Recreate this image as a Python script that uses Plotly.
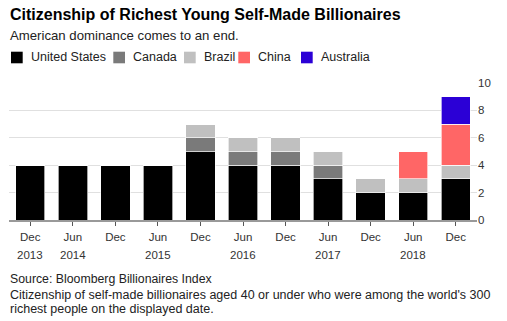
import plotly.graph_objects as go

months = ["Dec", "Jun", "Dec", "Jun", "Dec", "Jun", "Dec", "Jun", "Dec", "Jun", "Dec"]
years = ["2013", "2014", "", "2015", "", "2016", "", "2017", "", "2018", ""]
categories = [f"{m} {y or i}" for i, (m, y) in enumerate(zip(months, years))]

us = [4, 4, 4, 4, 5, 4, 4, 3, 2, 2, 3]
canada = [0, 0, 0, 0, 1, 1, 1, 1, 0, 0, 0]
brazil = [0, 0, 0, 0, 1, 1, 1, 1, 1, 1, 1]
china = [0, 0, 0, 0, 0, 0, 0, 0, 0, 2, 3]
australia = [0, 0, 0, 0, 0, 0, 0, 0, 0, 0, 2]

series = [
    ("United States", us, "#000000"),
    ("Canada", canada, "#7a7a7a"),
    ("Brazil", brazil, "#c0c0c0"),
    ("China", china, "#ff6666"),
    ("Australia", australia, "#2b00d6"),
]

FONT = "Liberation Sans, Arial, sans-serif"
W, H = 507, 321
ML, MR, MT, MB = 9, 30, 83, 101
PW, PH = W - ML - MR, H - MT - MB


def px(x):
    return (x - ML) / PW


def py(y):
    return 1 - (y - MT) / PH


fig = go.Figure()
for name, vals, color in series:
    fig.add_trace(go.Bar(
        x=categories, y=vals, name=name,
        marker=dict(color=color, line=dict(color="rgba(255,255,255,0.8)", width=0.8)),
    ))

fig.update_layout(
    width=W, height=H,
    margin=dict(l=ML, r=MR, t=MT, b=MB),
    barmode="stack", bargap=0.31,
    plot_bgcolor="white", paper_bgcolor="white",
    font=dict(family=FONT, color="#222"),
    showlegend=False,
    xaxis=dict(
        tickmode="array", tickvals=categories, ticktext=months,
        ticks="outside", ticklen=4, tickcolor="#555",
        showline=True, linecolor="#999", linewidth=1.5,
        showgrid=False, tickfont=dict(size=11.5, color="#333"),
        ticklabelstandoff=1,
    ),
    yaxis=dict(
        side="right", range=[0, 10], tickvals=[0, 2, 4, 6, 8, 10],
        showgrid=True, gridcolor="#e0e0e0", gridwidth=1,
        zeroline=False, showline=False, ticks="",
        tickfont=dict(size=11.5, color="#333"),
    ),
)

for c, y in zip(categories, years):
    if y:
        fig.add_annotation(x=c, y=0, xref="x", yref="paper", text=y, showarrow=False,
                           yshift=-35, yanchor="middle", font=dict(size=11.5, color="#333"))

# legend (drawn manually to match the compact reference spacing)
legend_x = [11, 113.3, 184, 238.3, 301]
for (name, _, color), lx in zip(series, legend_x):
    fig.add_shape(type="rect", xref="paper", yref="paper",
                  x0=px(lx), x1=px(lx + 11.7), y0=py(63.3), y1=py(51.7),
                  fillcolor=color, line=dict(width=0))
    fig.add_annotation(text=name, xref="paper", yref="paper",
                       x=px(lx + 17.5), y=py(57.5), xanchor="left", yanchor="middle",
                       showarrow=False, font=dict(size=12.5, color="#222"))

texts = [
    ("<b>Citizenship of Richest Young Self-Made Billionaires</b>", 15, 16, "#000"),
    ("American dominance comes to an end.", 35, 13.2, "#222"),
    ("Source: Bloomberg Billionaires Index", 279, 12.3, "#222"),
    ("Citizenship of self-made billionaires aged 40 or under who were among the world's 300", 294.5, 12.5, "#222"),
    ("richest people on the displayed date.", 308.5, 12.5, "#222"),
]
for t, ypx, size, col in texts:
    fig.add_annotation(text=t, xref="paper", yref="paper",
                       x=px(8), y=py(ypx),
                       xanchor="left", yanchor="middle", showarrow=False,
                       font=dict(size=size, color=col, family=FONT))

fig.write_html("out.html")
